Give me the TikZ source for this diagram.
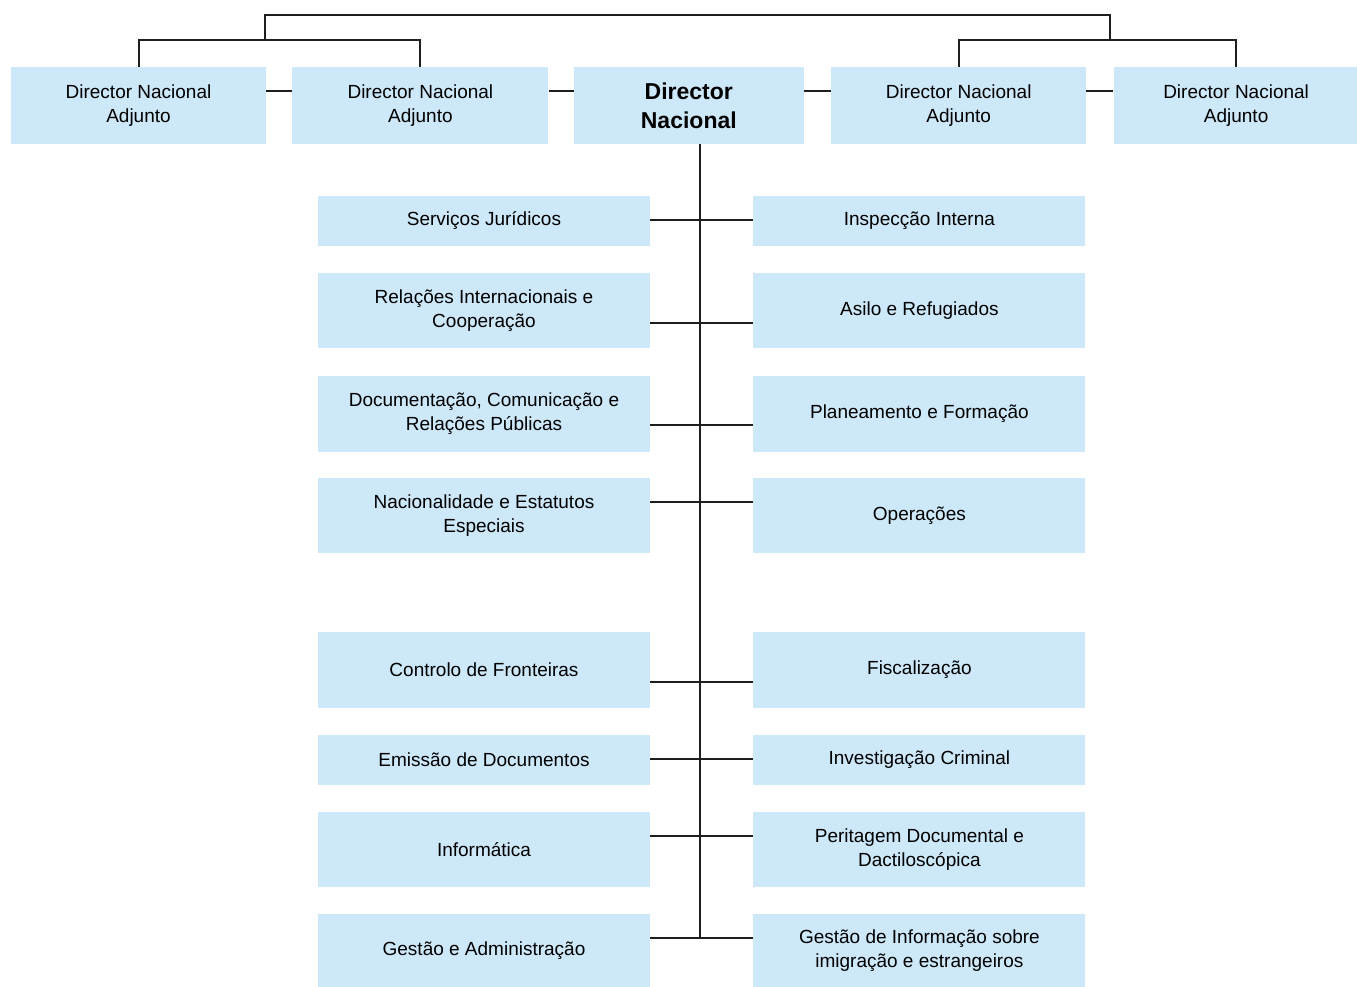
\documentclass[tikz,border=0pt]{standalone}
\usepackage{fontspec}
\setmainfont{Liberation Sans}
\usepackage{tikz}
\usetikzlibrary{positioning}
\definecolor{unitblue}{HTML}{CDE8F8}
\definecolor{wire}{HTML}{1E1E1E}
\tikzset{
	unit/.style={fill=unitblue, draw=none, inner sep=0pt, align=center,
		font=\fontsize{19}{24}\selectfont},
	rowunit/.style={unit, minimum width=332pt},
	deputy/.style={unit, minimum height=77pt},
	chief/.style={unit, minimum height=77pt, minimum width=230pt,
		font=\fontsize{23}{29}\selectfont\bfseries},
	link/.style={line width=2pt, wire},
}

\begin{document}
\begin{tikzpicture}[x=1pt, y=-1pt]
	\useasboundingbox (0,0) rectangle (1357,987);

	\node[deputy, minimum width=255pt] (dep1) at (138.5,105.5) {Director Nacional\\Adjunto};
	\node[deputy, minimum width=256pt, right=26pt of dep1] (dep2) {Director Nacional\\Adjunto};
	\node[chief, right=25pt of dep2] (chief) {Director\\Nacional};
	\node[deputy, minimum width=255pt, right=27pt of chief] (dep3) {Director Nacional\\Adjunto};
	\node[deputy, minimum width=245pt, right=27pt of dep3] (dep4) {Director Nacional\\Adjunto};

	\foreach \a/\b in {dep1/dep2, dep2/chief, chief/dep3, dep3/dep4}
		\draw[link] (\a.east |- 0,91) -- (\b.west |- 0,91);

	\draw[link] (dep1.north) -- ++(0,-27) -| (dep2.north);
	\draw[link] (dep3.north) -- ++(0,-27) -| (dep4.north);
	\coordinate (hubL) at (265,40);
	\coordinate (hubR) at (1110,40);
	\draw[link] (hubL) -- ++(0,-25) -| (hubR);

	\coordinate (spine) at (700,938);
	\draw[link] (chief.south -| spine) -- (spine);

	\foreach \i/\yc/\h/\cy/\ltext/\rtext in {
		1/221/50/220/{Serviços Jurídicos}/{Inspecção Interna},
		2/310.5/75/323/{Relações Internacionais e\\Cooperação}/{Asilo e Refugiados},
		3/414/76/425/{Documentação, Comunicação e\\Relações Públicas}/{Planeamento e Formação},
		4/515.5/75/502/{Nacionalidade e Estatutos\\Especiais}/{Operações},
		5/670/76/682/{Controlo de Fronteiras}/{Fiscalização},
		6/760/50/759/{Emissão de Documentos}/{Investigação Criminal},
		7/849.5/75/836/{Informática}/{Peritagem Documental e\\Dactiloscópica},
		8/950.5/73/938/{Gestão e Administração}/{Gestão de Informação sobre\\imigração e estrangeiros}}
	{
		\node[rowunit, minimum height=\h pt] (l\i) at (484,\yc) {\ltext};
		\node[rowunit, minimum height=\h pt, right=103pt of l\i] (r\i) {\rtext};
		\draw[link] (l\i.east |- 0,\cy) -- (r\i.west |- 0,\cy);
	}
\end{tikzpicture}
\end{document}
